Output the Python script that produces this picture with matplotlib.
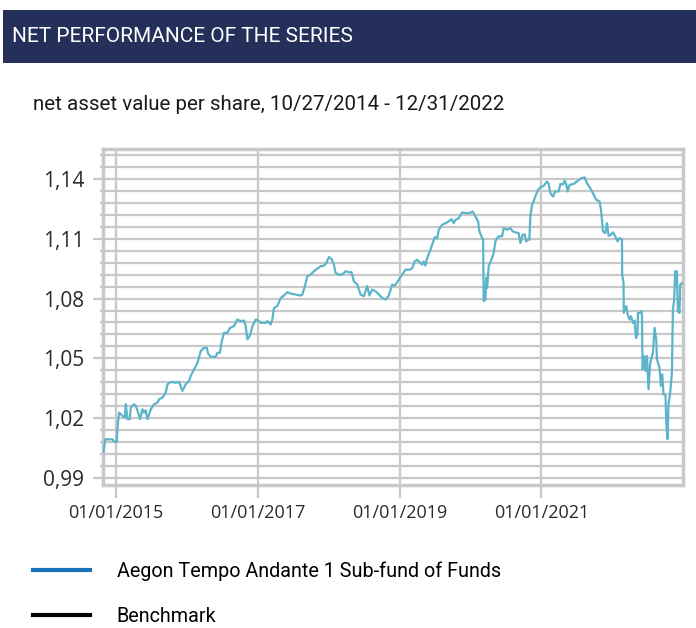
import numpy as np
import pandas as pd
import matplotlib
matplotlib.use("Agg")
import matplotlib.pyplot as plt
import matplotlib.dates as mdates
from matplotlib.lines import Line2D
from matplotlib.ticker import FixedLocator, FuncFormatter

# net asset value per share (decimal year, value)
years = [
    2014.825, 2014.852, 2014.883, 2014.954, 2014.976, 2015.014, 2015.024, 2015.046,
    2015.094, 2015.127, 2015.141, 2015.165, 2015.197, 2015.211, 2015.258, 2015.282,
    2015.306, 2015.342, 2015.376, 2015.399, 2015.420, 2015.446, 2015.493, 2015.539,
    2015.587, 2015.610, 2015.658, 2015.704, 2015.728, 2015.775, 2015.845, 2015.892,
    2015.939, 2015.986, 2016.032, 2016.056, 2016.103, 2016.151, 2016.197, 2016.244,
    2016.282, 2016.300, 2016.338, 2016.408, 2016.432, 2016.469, 2016.489, 2016.525,
    2016.573, 2016.610, 2016.666, 2016.714, 2016.761, 2016.807, 2016.831, 2016.855,
    2016.892, 2016.925, 2016.972, 2017.018, 2017.042, 2017.113, 2017.137, 2017.183,
    2017.207, 2017.230, 2017.277, 2017.324, 2017.370, 2017.418, 2017.465, 2017.535,
    2017.606, 2017.630, 2017.666, 2017.700, 2017.746, 2017.793, 2017.841, 2017.887,
    2017.934, 2017.968, 2018.004, 2018.042, 2018.075, 2018.099, 2018.145, 2018.193,
    2018.239, 2018.286, 2018.324, 2018.356, 2018.404, 2018.451, 2018.497, 2018.545,
    2018.577, 2018.615, 2018.662, 2018.708, 2018.756, 2018.803, 2018.849, 2018.897,
    2018.934, 2018.990, 2019.038, 2019.085, 2019.155, 2019.179, 2019.215, 2019.249,
    2019.296, 2019.320, 2019.342, 2019.366, 2019.390, 2019.437, 2019.461, 2019.497,
    2019.531, 2019.554, 2019.601, 2019.648, 2019.694, 2019.732, 2019.765, 2019.789,
    2019.835, 2019.883, 2019.930, 2020.000, 2020.032, 2020.070, 2020.108, 2020.127,
    2020.155, 2020.179, 2020.187, 2020.211, 2020.221, 2020.235, 2020.258, 2020.296,
    2020.328, 2020.352, 2020.376, 2020.399, 2020.446, 2020.469, 2020.517, 2020.563,
    2020.596, 2020.634, 2020.680, 2020.704, 2020.737, 2020.765, 2020.785, 2020.813,
    2020.831, 2020.845, 2020.869, 2020.892, 2020.915, 2020.954, 2020.986, 2021.032,
    2021.080, 2021.103, 2021.127, 2021.165, 2021.197, 2021.244, 2021.268, 2021.306,
    2021.328, 2021.352, 2021.370, 2021.399, 2021.455, 2021.503, 2021.559, 2021.610,
    2021.644, 2021.690, 2021.728, 2021.775, 2021.821, 2021.841, 2021.869, 2021.901,
    2021.925, 2021.948, 2021.982, 2022.010, 2022.042, 2022.075, 2022.103, 2022.137,
    2022.140, 2022.159, 2022.162, 2022.183, 2022.197, 2022.216, 2022.244, 2022.263,
    2022.292, 2022.314, 2022.334, 2022.356, 2022.362, 2022.394, 2022.418, 2022.427,
    2022.451, 2022.469, 2022.489, 2022.511, 2022.535, 2022.573, 2022.596, 2022.620,
    2022.630, 2022.666, 2022.686, 2022.704, 2022.723, 2022.751, 2022.761, 2022.779,
    2022.793, 2022.817, 2022.841, 2022.855, 2022.873, 2022.887, 2022.901, 2022.911,
    2022.925, 2022.948, 2022.958, 2022.982,
]
nav = [
    1.0030, 1.0094, 1.0094, 1.0094, 1.0082, 1.0082, 1.0154, 1.0228,
    1.0212, 1.0203, 1.0270, 1.0195, 1.0195, 1.0253, 1.0270, 1.0262,
    1.0237, 1.0195, 1.0245, 1.0228, 1.0240, 1.0195, 1.0245, 1.0270,
    1.0278, 1.0295, 1.0303, 1.0328, 1.0370, 1.0382, 1.0378, 1.0382,
    1.0337, 1.0370, 1.0387, 1.0412, 1.0445, 1.0478, 1.0537, 1.0553,
    1.0553, 1.0525, 1.0508, 1.0508, 1.0528, 1.0528, 1.0578, 1.0628,
    1.0628, 1.0653, 1.0662, 1.0695, 1.0687, 1.0690, 1.0662, 1.0595,
    1.0615, 1.0660, 1.0695, 1.0687, 1.0678, 1.0678, 1.0687, 1.0670,
    1.0695, 1.0753, 1.0762, 1.0803, 1.0815, 1.0832, 1.0825, 1.0820,
    1.0815, 1.0820, 1.0862, 1.0912, 1.0920, 1.0937, 1.0950, 1.0962,
    1.0965, 1.0978, 1.1008, 1.0998, 1.0970, 1.0928, 1.0920, 1.0920,
    1.0937, 1.0932, 1.0932, 1.0887, 1.0870, 1.0820, 1.0812, 1.0862,
    1.0815, 1.0845, 1.0837, 1.0820, 1.0803, 1.0795, 1.0815, 1.0870,
    1.0865, 1.0895, 1.0920, 1.0945, 1.0945, 1.0953, 1.0987, 1.0995,
    1.0978, 1.0970, 1.0987, 1.0965, 1.1003, 1.1045, 1.1070, 1.1108,
    1.1103, 1.1145, 1.1170, 1.1178, 1.1187, 1.1198, 1.1178, 1.1195,
    1.1203, 1.1232, 1.1228, 1.1230, 1.1237, 1.1212, 1.1187, 1.1137,
    1.1112, 1.1095, 1.0787, 1.0795, 1.0903, 1.0853, 1.0962, 1.0995,
    1.1028, 1.1087, 1.1103, 1.1112, 1.1112, 1.1153, 1.1145, 1.1153,
    1.1137, 1.1132, 1.1128, 1.1078, 1.1120, 1.1122, 1.1087, 1.1095,
    1.1095, 1.1212, 1.1270, 1.1287, 1.1312, 1.1345, 1.1358, 1.1365,
    1.1387, 1.1375, 1.1328, 1.1312, 1.1337, 1.1337, 1.1375, 1.1372,
    1.1392, 1.1372, 1.1337, 1.1370, 1.1375, 1.1387, 1.1403, 1.1408,
    1.1378, 1.1353, 1.1328, 1.1295, 1.1287, 1.1245, 1.1137, 1.1128,
    1.1178, 1.1115, 1.1120, 1.1132, 1.1112, 1.1087, 1.1103, 1.1095,
    1.0920, 1.0878, 1.0728, 1.0753, 1.0762, 1.0720, 1.0695, 1.0712,
    1.0678, 1.0690, 1.0602, 1.0620, 1.0728, 1.0728, 1.0737, 1.0445,
    1.0512, 1.0437, 1.0512, 1.0345, 1.0478, 1.0528, 1.0653, 1.0595,
    1.0495, 1.0453, 1.0362, 1.0420, 1.0320, 1.0315, 1.0178, 1.0095,
    1.0270, 1.0328, 1.0428, 1.0745, 1.0795, 1.0937, 1.0862, 1.0937,
    1.0737, 1.0728, 1.0870, 1.0878,
]

y_ticks = [0.99, 1.02, 1.05, 1.08, 1.11, 1.14]
x_ticks = ["2015-01-01", "2017-01-01", "2019-01-01", "2021-01-01"]
legend_labels = ["Aegon Tempo Andante 1 Sub-fund of Funds", "Benchmark"]

plt.rcParams["font.family"] = ["Roboto", "DejaVu Sans"]
tick_font = ["Open Sans", "DejaVu Sans"]

yr = np.array(years)
dates = pd.Timestamp("2015-01-01") + pd.to_timedelta((yr - 2015) * 365.25, unit="D")

fig = plt.figure(figsize=(6.96, 6.28), dpi=100)
fig.patch.set_facecolor("white")

# header band
fig.patches.append(plt.Rectangle((3 / 696, 1 - 63 / 628), 693 / 696, 53 / 628,
                                 transform=fig.transFigure, facecolor="#24305a",
                                 edgecolor="none"))
fig.text(12 / 696, 1 - 37 / 628, "NET PERFORMANCE OF THE SERIES", color="white",
         fontsize=15, va="center", ha="left")
fig.text(33 / 696, 1 - 105 / 628, "net asset value per share, 10/27/2014 - 12/31/2022",
         color="#1a1a1a", fontsize=14.8, va="center", ha="left")

ax = fig.add_axes([103 / 696, 1 - 485 / 628, 580 / 696, 336 / 628])
ax.plot(dates, nav, color="#5bb4ca", linewidth=1.6, zorder=3)

ax.set_xlim(pd.Timestamp("2014-10-27"), pd.Timestamp("2022-12-31"))
ax.set_ylim(0.9865, 1.155)

ax.xaxis.set_major_locator(FixedLocator(mdates.date2num(pd.to_datetime(x_ticks))))
ax.xaxis.set_major_formatter(mdates.DateFormatter("%m/%d/%Y"))
ax.yaxis.set_major_locator(FixedLocator(y_ticks))
ax.yaxis.set_minor_locator(FixedLocator(np.arange(0.99, 1.155, 0.006)))
ax.yaxis.set_major_formatter(FuncFormatter(lambda v, p: f"{v:.2f}".replace(".", ",")))

grid_c = "#c8c8c8"
ax.grid(True, which="major", axis="x", color=grid_c, linewidth=1.6)
ax.grid(True, which="both", axis="y", color=grid_c, linewidth=1.6)
ax.set_axisbelow(True)
for s in ax.spines.values():
    s.set_color(grid_c)
    s.set_linewidth(2.5)

ax.tick_params(axis="y", which="major", length=7.5, width=1.6, color=grid_c,
               labelsize=15, labelcolor="#2a2a2a", pad=6)
ax.tick_params(axis="y", which="minor", length=2.5, width=1.6, color=grid_c)
ax.tick_params(axis="x", which="major", length=9, width=1.6, color=grid_c,
               labelsize=13, labelcolor="#2a2a2a", pad=5)
for lab in ax.get_xticklabels() + ax.get_yticklabels():
    lab.set_family(tick_font)

handles = [Line2D([], [], color="#1a72bb", linewidth=3),
           Line2D([], [], color="black", linewidth=3)]
fig.legend(handles, legend_labels, loc="upper left",
           bbox_to_anchor=(33 / 696, 1 - 561 / 628), frameon=False,
           borderpad=0, borderaxespad=0,
           fontsize=14.2, handlelength=2.9, handletextpad=1.35, labelspacing=1.35)

fig.savefig("out.png", dpi=100, facecolor="white")
